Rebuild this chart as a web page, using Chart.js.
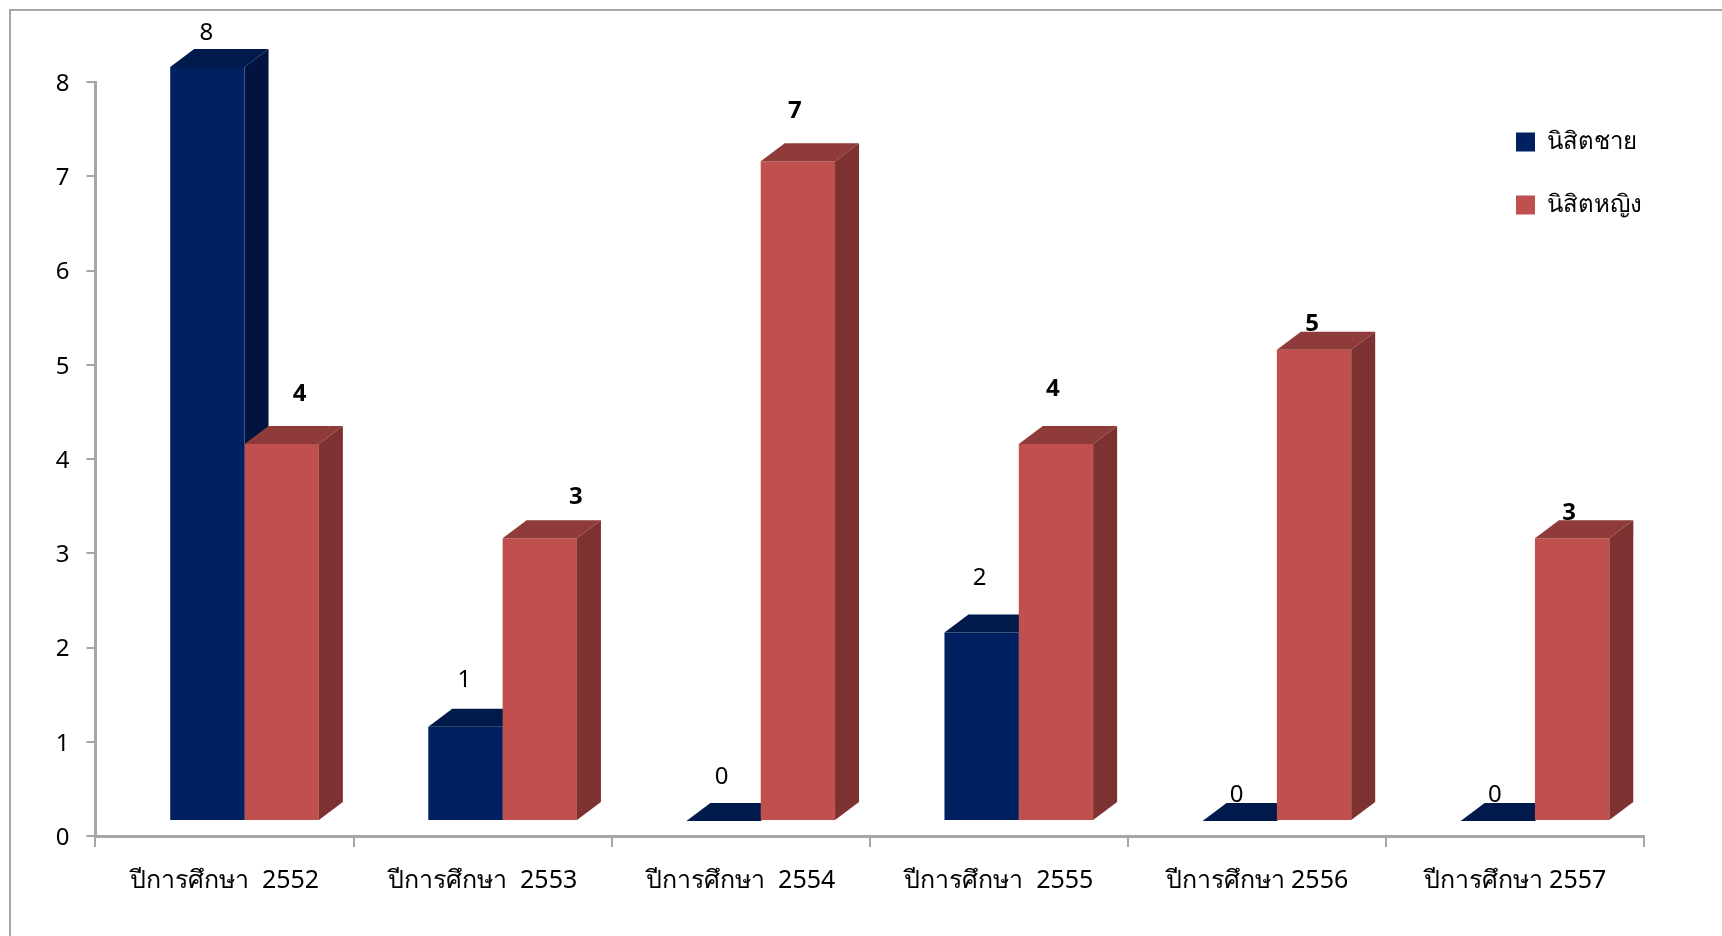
<!DOCTYPE html>
<html lang="th">
<head>
    <meta charset="UTF-8">
    <title>นิสิตชาย นิสิตหญิง</title>
    <script src="https://cdn.jsdelivr.net/npm/chart.js"></script>
    <style>
        html, body { margin: 0; padding: 0; background: #fff; overflow: hidden; }
        #wrap { position: relative; width: 1722px; height: 936px; }
        #frame { position: absolute; left: 9px; top: 9px; right: 0; bottom: 0; border-left: 2px solid #a6a6a6; border-top: 2px solid #a6a6a6; }
        canvas { position: absolute; left: 0; top: 0; }
    </style>
</head>
<body>
    <div id="wrap">
        <div id="frame"></div>
        <canvas id="chart" width="1722" height="936"></canvas>
    </div>

    <script>
        const categories = ['ปีการศึกษา  2552', 'ปีการศึกษา  2553', 'ปีการศึกษา  2554', 'ปีการศึกษา  2555', 'ปีการศึกษา 2556', 'ปีการศึกษา 2557'];
        const maleName = 'นิสิตชาย';
        const femaleName = 'นิสิตหญิง';
        const maleValues = [8, 1, 0, 2, 0, 0];
        const femaleValues = [4, 3, 7, 4, 5, 3];
        const yTicks = [0, 1, 2, 3, 4, 5, 6, 7, 8];

        // where the value labels sit relative to the front top corner centre of each bar
        const maleLabelNudge = [[-1, -34], [-1, -47], [-2, -44], [-2, -54], [-3, -26], [-3, -26]];
        const femaleLabelNudge = [[18, -50], [36, -41], [-3, -50], [-3, -55], [-2, -26], [-3, -25]];

        const FONT = '"Noto Sans", "Open Sans", sans-serif';
        const AXIS = '#a6a6a6';
        const DEPTH_X = 24, DEPTH_Y = 18;   // extrusion of the fake 3D
        const SHIFT_X = 20, SHIFT_Y = -15;  // bars float off the axis like the office 3D charts

        const faces = [
            { top: '#001a4c', side: '#00143f', nudge: maleLabelNudge, bold: false },
            { top: '#8e3b39', side: '#7d3231', nudge: femaleLabelNudge, bold: true }
        ];

        function drawDepth(chart, index) {
            const ctx = chart.ctx;
            const style = faces[index];
            chart.getDatasetMeta(index).data.forEach((bar) => {
                const left = bar.x - bar.width / 2;
                const right = bar.x + bar.width / 2;
                ctx.fillStyle = style.top;
                ctx.beginPath();
                ctx.moveTo(left, bar.y);
                ctx.lineTo(left + DEPTH_X, bar.y - DEPTH_Y);
                ctx.lineTo(right + DEPTH_X, bar.y - DEPTH_Y);
                ctx.lineTo(right, bar.y);
                ctx.fill();
                ctx.fillStyle = style.side;
                ctx.beginPath();
                ctx.moveTo(right, bar.y);
                ctx.lineTo(right + DEPTH_X, bar.y - DEPTH_Y);
                ctx.lineTo(right + DEPTH_X, bar.base - DEPTH_Y);
                ctx.lineTo(right, bar.base);
                ctx.fill();
            });
        }

        const bars3d = {
            id: 'bars3d',
            afterLayout(chart) {
                // legend floats inside the plot at the upper right
                const legend = chart.legend;
                legend.left = 1477;
                legend.top = 91;
                legend.right = 1722;
                legend.bottom = 300;
            },
            // chart.js paints the last dataset first, so the blue depth has to go down
            // before the red bars or it would sit on top of them
            beforeDatasetsDraw(chart) {
                chart.ctx.save();
                chart.ctx.translate(SHIFT_X, SHIFT_Y);
                drawDepth(chart, 0);
                chart.ctx.restore();
            },
            beforeDatasetDraw(chart) {
                chart.ctx.save();
                chart.ctx.translate(SHIFT_X, SHIFT_Y);
            },
            afterDatasetDraw(chart, args) {
                if (args.index === 1) drawDepth(chart, 1);
                chart.ctx.restore();
            },
            afterDatasetsDraw(chart) {
                const ctx = chart.ctx;
                ctx.save();
                ctx.fillStyle = '#000';
                ctx.textAlign = 'center';
                ctx.textBaseline = 'middle';
                chart.data.datasets.forEach((ds, i) => {
                    const style = faces[i];
                    ctx.font = (style.bold ? 'bold ' : '') + '24px ' + FONT;
                    chart.getDatasetMeta(i).data.forEach((bar, k) => {
                        const n = style.nudge[k];
                        ctx.fillText(ds.data[k], bar.x + SHIFT_X + n[0], bar.y + SHIFT_Y + n[1]);
                    });
                });
                ctx.restore();
            }
        };

        new Chart(document.getElementById('chart'), {
            type: 'bar',
            plugins: [bars3d],
            data: {
                labels: categories,
                datasets: [
                    { label: maleName, data: maleValues, backgroundColor: '#002060', clip: false },
                    { label: femaleName, data: femaleValues, backgroundColor: '#c0504d', clip: false }
                ]
            },
            options: {
                responsive: false,
                animation: false,
                layout: { padding: { left: 0, right: 78, top: 82, bottom: 0 } },
                datasets: { bar: { barPercentage: 1, categoryPercentage: 0.576 } },
                plugins: {
                    title: { display: false },
                    tooltip: { enabled: false },
                    legend: {
                        position: 'chartArea',
                        align: 'start',
                        labels: {
                            boxWidth: 19,
                            boxHeight: 19,
                            padding: 39,
                            color: '#000',
                            font: { family: FONT, size: 24 }
                        }
                    }
                },
                scales: {
                    x: {
                        afterFit(scale) { scale.height = 100; },
                        grid: { drawOnChartArea: false, color: AXIS, tickLength: 11, lineWidth: 2 },
                        border: { color: AXIS, width: 3 },
                        ticks: { color: '#000', padding: 19, maxRotation: 0, font: { family: FONT, size: 25 } }
                    },
                    y: {
                        min: 0,
                        max: 8,
                        afterFit(scale) { scale.width = 95.5; },
                        afterBuildTicks(scale) { scale.ticks = yTicks.map((v) => ({ value: v })); },
                        grid: { drawOnChartArea: false, color: AXIS, tickLength: 9, lineWidth: 2 },
                        border: { color: AXIS, width: 3 },
                        ticks: { color: '#000', padding: 17, labelOffset: 2, font: { family: FONT, size: 24 } }
                    }
                }
            }
        });
    </script>
</body>
</html>
